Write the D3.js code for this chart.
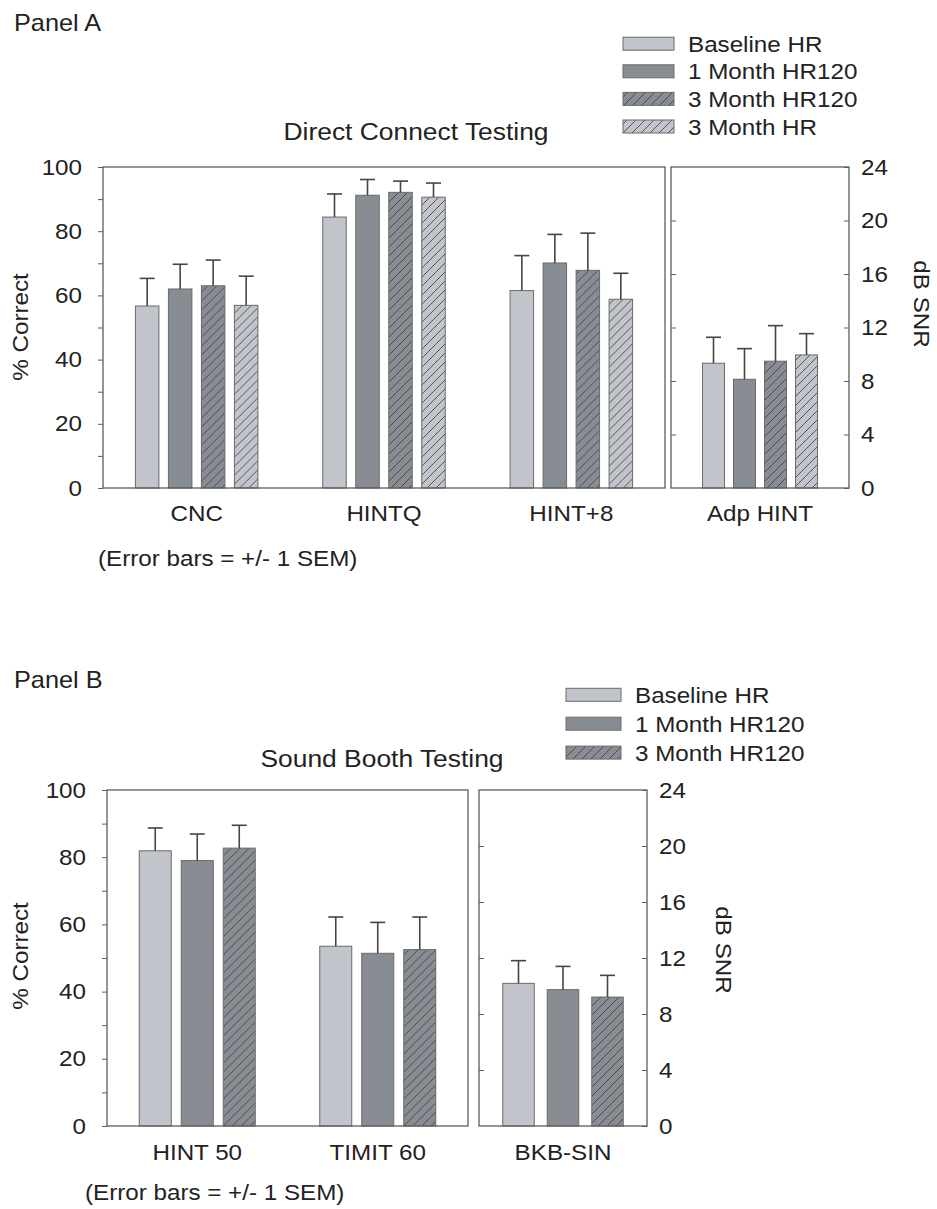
<!DOCTYPE html>
<html>
<head>
<meta charset="utf-8">
<script src="https://cdn.jsdelivr.net/npm/d3@7"></script>
<style>
  body { margin: 0; background: #fff; }
  svg { display: block; font-family: "Liberation Sans", Arial, sans-serif; }
</style>
</head>
<body>
<div id="chart"></div>
<script>
////////////////////////////////////////////////////////////
//// Data //////////////////////////////////////////////////
////////////////////////////////////////////////////////////
const seriesA = ["Baseline HR", "1 Month HR120", "3 Month HR120", "3 Month HR"];
const pctTestsA = ["CNC", "HINTQ", "HINT+8"];
const pctMeansA = [[56.7, 62.0, 63.0, 56.9], [84.4, 91.2, 92.1, 90.6], [61.5, 70.1, 67.8, 58.8]];
const pctSemA = [[8.6, 7.7, 8.0, 9.1], [7.2, 4.9, 3.5, 4.4], [10.9, 8.9, 11.6, 8.1]];
const snrTestsA = ["Adp HINT"];
const snrMeansA = [[9.33, 8.13, 9.48, 9.95]];
const snrSemA = [[1.94, 2.29, 2.66, 1.59]];

const seriesB = ["Baseline HR", "1 Month HR120", "3 Month HR120"];
const pctTestsB = ["HINT 50", "TIMIT 60"];
const pctMeansB = [[81.9, 79.0, 82.7], [53.5, 51.4, 52.5]];
const pctSemB = [[6.8, 7.9, 6.8], [8.7, 9.2, 9.7]];
const snrTestsB = ["BKB-SIN"];
const snrMeansB = [[10.19, 9.74, 9.21]];
const snrSemB = [[1.62, 1.66, 1.55]];

const pctTicks = d3.range(0, 101, 10);
const snrTicks = d3.range(0, 25, 4);

////////////////////////////////////////////////////////////
//// Setup /////////////////////////////////////////////////
////////////////////////////////////////////////////////////
const width = 937;
const height = 1209;
const stretch = 1.1; // the source lettering is a little wider than Arial
const textColor = "#222";
const frameColor = "#5c5c5c";
const fills = ["#c1c5cb", "#888d94", "url(#hatchDark)", "url(#hatchLight)"];

const svg = d3.select("#chart")
  .append("svg")
  .attr("width", width)
  .attr("height", height);

const defs = svg.append("defs");
addHatch("hatchDark", "#888d94");
addHatch("hatchLight", "#c1c5cb");

function addHatch(id, bg) {
  const p = defs.append("pattern")
    .attr("id", id)
    .attr("patternUnits", "userSpaceOnUse")
    .attr("width", 9)
    .attr("height", 9);
  p.append("rect").attr("width", 9).attr("height", 9).attr("fill", bg);
  p.append("path")
    .attr("d", "M-1,1 l2,-2 M0,9 l9,-9 M8,10 l2,-2")
    .attr("stroke", "#3a3a3a")
    .attr("stroke-width", 0.8);
}

function label(x, y, str, opts = {}) {
  const g = svg.append("g")
    .attr("transform", `translate(${x},${y}) rotate(${opts.rotate || 0}) scale(${stretch},1)`);
  g.append("text")
    .attr("text-anchor", opts.anchor || "start")
    .attr("font-size", opts.size || 22)
    .attr("fill", textColor)
    .text(str);
  return g;
}

function stretchTicks(g) {
  g.selectAll(".tick text")
    .attr("font-size", 22)
    .attr("fill", textColor)
    .each(function() {
      const t = d3.select(this);
      t.attr("x", +t.attr("x") / stretch).attr("transform", `scale(${stretch},1)`);
    });
  g.selectAll(".tick line").attr("stroke", frameColor);
  g.select(".domain").remove();
  g.attr("font-family", null);
}

// one framed box of grouped bars
function drawBox(box, tests, series, means, sem, y, step, barW) {
  const x0 = d3.scaleBand().domain(tests).range([box.left, box.right]).padding(0);
  const n = series.length;
  const pi = 1 - barW / step;
  const x1 = d3.scaleBand()
    .domain(d3.range(n))
    .range([-n * step / 2, n * step / 2])
    .paddingInner(pi)
    .paddingOuter(pi / 2);

  const groups = svg.append("g")
    .selectAll("g")
    .data(tests)
    .join("g")
    .attr("transform", d => `translate(${x0(d) + x0.bandwidth() / 2},0)`);

  const bars = groups.selectAll("g")
    .data((d, i) => means[i].map((m, j) => ({ s: j, mean: m, sem: sem[i][j] })))
    .join("g");

  bars.append("rect")
    .attr("x", d => x1(d.s))
    .attr("y", d => y(d.mean))
    .attr("width", x1.bandwidth())
    .attr("height", d => y(0) - y(d.mean))
    .attr("fill", d => fills[d.s])
    .attr("stroke", "#6a6a6a")
    .attr("stroke-width", 1);

  const cx = d => x1(d.s) + x1.bandwidth() / 2;
  bars.append("line")
    .attr("x1", cx).attr("x2", cx)
    .attr("y1", d => y(d.mean))
    .attr("y2", d => y(d.mean + d.sem));
  bars.append("line")
    .attr("x1", d => cx(d) - 7.5).attr("x2", d => cx(d) + 7.5)
    .attr("y1", d => y(d.mean + d.sem))
    .attr("y2", d => y(d.mean + d.sem));
  bars.selectAll("line")
    .attr("stroke", "#454545")
    .attr("stroke-width", 1.6);

  // frame
  svg.append("rect")
    .attr("x", box.left)
    .attr("y", box.top)
    .attr("width", box.right - box.left)
    .attr("height", box.bottom - box.top)
    .attr("fill", "none")
    .attr("stroke", frameColor)
    .attr("stroke-width", 1.3);

  return x0;
}

function drawPanel(p) {
  const yPct = d3.scaleLinear().domain([0, 100]).range([p.bottom, p.top]);
  const ySnr = d3.scaleLinear().domain([0, 24]).range([p.bottom, p.top]);
  const left = { left: p.leftBox[0], right: p.leftBox[1], top: p.top, bottom: p.bottom };
  const right = { left: p.rightBox[0], right: p.rightBox[1], top: p.top, bottom: p.bottom };

  const xl = drawBox(left, p.pctTests, p.series, p.pctMeans, p.pctSem, yPct, p.stepL, p.barL);
  const xr = drawBox(right, p.snrTests, p.series, p.snrMeans, p.snrSem, ySnr, p.stepR, p.barR);

  // left % axis, outward ticks
  svg.append("g")
    .attr("transform", `translate(${left.left},0)`)
    .call(d3.axisLeft(yPct).tickValues(pctTicks).tickSize(5).tickPadding(16)
      .tickFormat(d => d % 20 === 0 ? d : ""))
    .call(stretchTicks);

  // right dB axis, inward ticks on both edges of the right box
  svg.append("g")
    .attr("transform", `translate(${right.right},0)`)
    .call(d3.axisRight(ySnr).tickValues(snrTicks).tickSize(-5).tickPadding(12))
    .call(stretchTicks);
  svg.append("g")
    .attr("transform", `translate(${right.left},0)`)
    .call(d3.axisLeft(ySnr).tickValues(snrTicks.slice(1, -1)).tickSize(-5).tickFormat(""))
    .call(stretchTicks);

  // category labels
  p.pctTests.forEach(t => label(xl(t) + xl.bandwidth() / 2, p.catY, t, { anchor: "middle" }));
  p.snrTests.forEach(t => label(xr(t) + xr.bandwidth() / 2, p.catY, t, { anchor: "middle" }));

  // axis titles
  label(28, p.yLabelY, "% Correct", { anchor: "middle", rotate: -90 });
  label(p.snrLabelX, p.snrLabelY, "dB SNR", { anchor: "middle", rotate: 90 });

  label(14, p.panelY, p.panel, { size: 23 });
  label(p.titleX, p.titleY, p.title, { anchor: "middle", size: 24 });
  label(p.noteX, p.noteY, "(Error bars = +/- 1 SEM)");

  // legend
  const ly = d3.scalePoint().domain(d3.range(p.series.length))
    .range([p.legendY, p.legendY + p.legendStep * (p.series.length - 1)]);
  p.series.forEach((s, i) => {
    svg.append("rect")
      .attr("x", p.legendX)
      .attr("y", ly(i) - 6.5)
      .attr("width", p.legendW)
      .attr("height", 13)
      .attr("fill", fills[i])
      .attr("stroke", "#6a6a6a")
      .attr("stroke-width", 1);
    label(p.legendX + p.legendW + 14, ly(i) + 8, s);
  });
}

////////////////////////////////////////////////////////////
//// Render ////////////////////////////////////////////////
////////////////////////////////////////////////////////////
drawPanel({
  panel: "Panel A", panelY: 31,
  title: "Direct Connect Testing", titleX: 416, titleY: 140,
  series: seriesA,
  pctTests: pctTestsA, pctMeans: pctMeansA, pctSem: pctSemA,
  snrTests: snrTestsA, snrMeans: snrMeansA, snrSem: snrSemA,
  top: 167, bottom: 488,
  leftBox: [103, 665], rightBox: [671, 849],
  stepL: 33, barL: 23.5, stepR: 31, barR: 22,
  catY: 521, yLabelY: 327, snrLabelX: 914, snrLabelY: 304,
  noteX: 98, noteY: 566,
  legendX: 623, legendW: 51, legendY: 43.7, legendStep: 27.6
});

drawPanel({
  panel: "Panel B", panelY: 688,
  title: "Sound Booth Testing", titleX: 382, titleY: 767,
  series: seriesB,
  pctTests: pctTestsB, pctMeans: pctMeansB, pctSem: pctSemB,
  snrTests: snrTestsB, snrMeans: snrMeansB, snrSem: snrSemB,
  top: 790, bottom: 1126,
  leftBox: [107, 468], rightBox: [479, 647],
  stepL: 42, barL: 32, stepR: 44.5, barR: 31.5,
  catY: 1160, yLabelY: 956, snrLabelX: 716, snrLabelY: 950,
  noteX: 85, noteY: 1200,
  legendX: 566, legendW: 55, legendY: 694.8, legendStep: 28.9
});
</script>
</body>
</html>
